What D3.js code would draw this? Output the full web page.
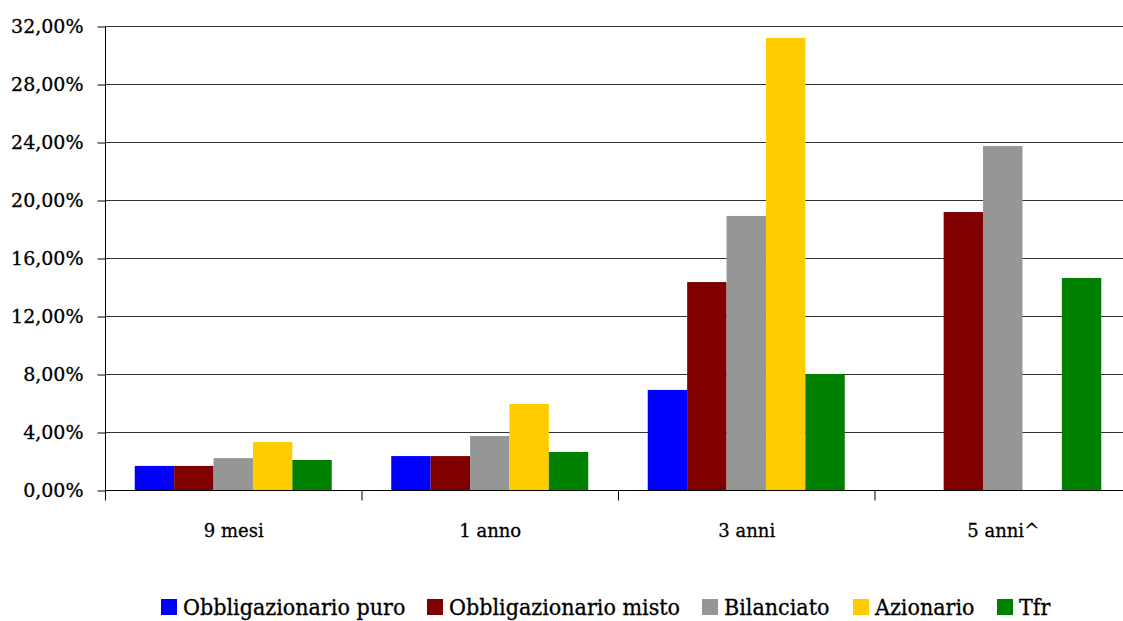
<!DOCTYPE html>
<html>
<head>
<meta charset="utf-8">
<script src="https://cdn.jsdelivr.net/npm/d3@7"></script>
<style>
    body { margin: 0; background: #fff; }
    svg { display: block; font-family: "DejaVu Serif", "Liberation Serif", serif; }
    text { fill: #000; stroke: #000; stroke-width: 0.3px; }
</style>
</head>
<body>
<svg width="1123" height="621"></svg>
<script>
var categories = ["9 mesi", "1 anno", "3 anni", "5 anni^"];
var seriesNames = ["Obbligazionario puro", "Obbligazionario misto", "Bilanciato", "Azionario", "Tfr"];
var seriesColors = ["#0000ff", "#800000", "#969696", "#ffcc00", "#008000"];

var obbligPuro = [1.66, 2.34, 6.90, null];
var obbligMisto = [1.66, 2.34, 14.34, 19.17];
var bilanciato = [2.20, 3.72, 18.90, 23.72];
var azionario = [3.31, 5.93, 31.17, null];
var tfr = [2.07, 2.62, 8.00, 14.62];

var yTicks = [0, 4, 8, 12, 16, 20, 24, 28, 32];

var seriesValues = [obbligPuro, obbligMisto, bilanciato, azionario, tfr];

var svg = d3.select("svg");

var xScale = d3.scaleBand().domain(categories).range([105, 1131]);
var innerScale = d3.scaleBand().domain(seriesNames).range([0, xScale.bandwidth()]).paddingOuter(0.755);
var yScale = d3.scaleLinear().domain([0, 32]).range([490, 26]);

function fmt(v) {
    return v.toFixed(2).replace(".", ",") + "%";
}

// Gridlines
svg.append("g")
    .selectAll("line")
    .data(yTicks.slice(1))
    .join("line")
    .attr("x1", 105)
    .attr("x2", 1123)
    .attr("y1", d => yScale(d) + 0.5)
    .attr("y2", d => yScale(d) + 0.5)
    .style("stroke", "#333")
    .style("stroke-width", 1);

// Bars
seriesValues.forEach(function (values, i) {
    svg.append("g")
        .selectAll("rect")
        .data(categories.map((c, j) => ({ cat: c, v: values[j] })).filter(d => d.v !== null))
        .join("rect")
        .attr("x", d => xScale(d.cat) + innerScale(seriesNames[i]))
        .attr("width", innerScale.bandwidth())
        .attr("y", d => yScale(d.v))
        .attr("height", d => yScale(0) - yScale(d.v))
        .attr("fill", seriesColors[i]);
});

// Y axis
var yAxis = svg.append("g")
    .attr("transform", "translate(105.5,0.5)")
    .call(d3.axisLeft(yScale).tickValues(yTicks).tickSize(8).tickFormat(fmt));
yAxis.select(".domain").attr("d", "M0," + yScale(0) + "V" + yScale(32)).style("stroke", "#000");
yAxis.selectAll(".tick line").style("stroke", "#000");
yAxis.selectAll(".tick text")
    .attr("x", -22)
    .style("font-size", "19px")
    .style("font-family", "'DejaVu Serif', serif");

// X axis
var xAxis = svg.append("g")
    .attr("transform", "translate(0.5," + (yScale(0) + 0.5) + ")");
xAxis.append("line")
    .attr("x1", 105)
    .attr("x2", 1123)
    .style("stroke", "#000");
xAxis.selectAll("line.tick")
    .data(categories)
    .join("line")
    .attr("class", "tick")
    .attr("x1", d => xScale(d))
    .attr("x2", d => xScale(d))
    .attr("y1", 0)
    .attr("y2", 10)
    .style("stroke", "#000");
xAxis.selectAll("text")
    .data(categories)
    .join("text")
    .attr("x", d => xScale(d) + xScale.bandwidth() / 2)
    .attr("y", 46)
    .attr("text-anchor", "middle")
    .style("font-size", "18px")
    .text(d => d);

// Legend
var legendX = [161, 427, 702, 853, 997];
var legend = svg.append("g")
    .selectAll("g")
    .data(seriesNames)
    .join("g")
    .attr("transform", (d, i) => "translate(" + legendX[i] + ",599)");
legend.append("rect")
    .attr("width", 16)
    .attr("height", 16)
    .attr("fill", (d, i) => seriesColors[i]);
legend.append("text")
    .attr("x", 22)
    .attr("y", 16)
    .style("font-size", "23px")
    .style("font-family", "'DejaVu Serif Condensed', 'DejaVu Serif', serif")
    .style("font-stretch", "condensed")
    .text(d => d);
</script>
</body>
</html>
